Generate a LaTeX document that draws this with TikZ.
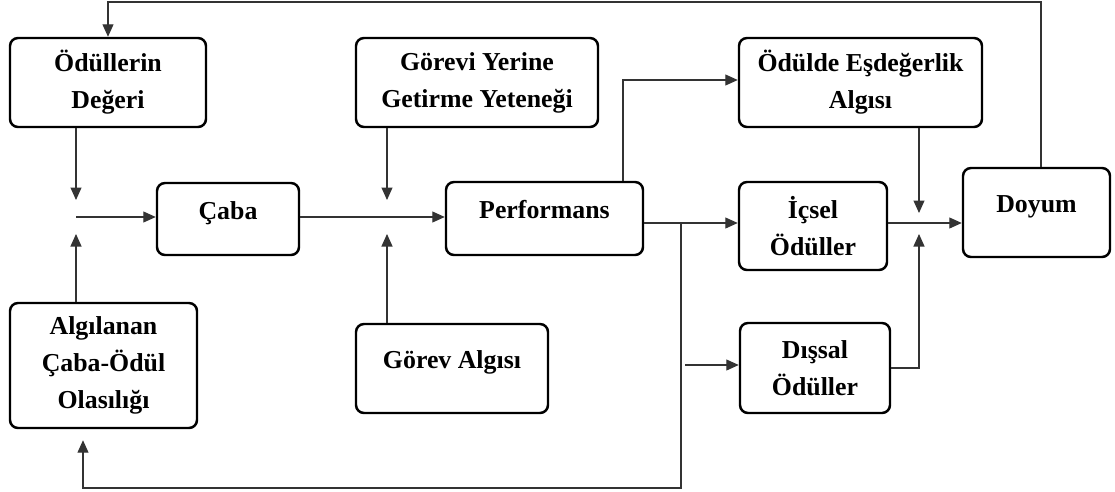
\documentclass[tikz,border=0pt]{standalone}
\usepackage{fontspec}
\setmainfont{Liberation Serif}
\usetikzlibrary{arrows.meta}

\begin{document}
\begin{tikzpicture}[
  box/.style={draw=black,line width=1.4pt,rounded corners=0.16cm,align=center,inner sep=0pt,
    font=\fontsize{14.7}{21}\selectfont\bfseries},
  oneline/.style={text height=10pt,text depth=10pt},
  link/.style={draw=black!80,line width=0.6pt},
  arr/.style={link,-{Triangle[length=0.25cm,width=0.22cm]}}
]
\useasboundingbox (0,0) rectangle (22.3,-9.84);

\node[box,minimum width=3.92cm,minimum height=1.78cm] (od) at (2.16,-1.65) {Ödüllerin\\Değeri};
\node[box,minimum width=4.84cm,minimum height=1.78cm] (gy) at (9.54,-1.65) {Görevi Yerine\\Getirme Yeteneği};
\node[box,minimum width=4.86cm,minimum height=1.78cm] (oe) at (17.21,-1.65) {Ödülde Eşdeğerlik\\Algısı};
\node[box,oneline,minimum width=2.84cm,minimum height=1.44cm] (cb) at (4.56,-4.38) {Çaba};
\node[box,oneline,minimum width=3.94cm,minimum height=1.46cm] (pf) at (10.89,-4.37) {Performans};
\node[box,minimum width=2.96cm,minimum height=1.76cm] (io) at (16.26,-4.52) {İçsel\\Ödüller};
\node[box,oneline,minimum width=2.94cm,minimum height=1.78cm] (dy) at (20.73,-4.25) {Doyum};
\node[box,minimum width=3.74cm,minimum height=2.5cm] (ao) at (2.07,-7.31) {Algılanan\\Çaba-Ödül\\Olasılığı};
\node[box,oneline,minimum width=3.84cm,minimum height=1.78cm] (ga) at (9.04,-7.37) {Görev Algısı};
\node[box,minimum width=3cm,minimum height=1.8cm] (do) at (16.3,-7.36) {Dışsal\\Ödüller};

% junctions and bends
\coordinate (j1) at (1.52,-4.34);
\coordinate (j2) at (7.74,-4.34);
\coordinate (j3) at (18.38,-4.46);
\coordinate (pup) at (12.46,-1.6);
\coordinate (sp) at (13.62,-4.46);
\coordinate (bot) at (13.62,-9.76);
\coordinate (bl) at (1.66,-9.76);
\coordinate (dl) at (13.7,-7.3);
\coordinate (tr) at (20.82,-0.04);

\draw[arr] (od.south -| j1) -- ([yshift=0.34cm]j1);
\draw[arr] (ao.north -| j1) -- ([yshift=-0.34cm]j1);
\draw[arr] (j1) -- (j1 -| cb.west);

\draw[arr] (gy.south -| j2) -- ([yshift=0.34cm]j2);
\draw[arr] (ga.north -| j2) -- ([yshift=-0.34cm]j2);
\draw[arr] (cb.east |- j2) -- (j2 -| pf.west);

\draw[arr] (pf.north -| pup) -- (pup) -- (pup -| oe.west);
\draw[arr] (pf.east |- j3) -- (j3 -| io.west);
\draw[arr,shorten >=0.22cm] (sp) -- (bot) -- (bl) -- (bl |- ao.south);
\draw[arr] (dl) -- (dl -| do.west);

\draw[arr] (oe.south -| j3) -- ([yshift=0.2cm]j3);
\draw[arr] (do.east) -| ([yshift=-0.22cm]j3);
\draw[arr] (io.east |- j3) -- (j3 -| dy.west);
\draw[arr] (dy.north -| tr) -- (tr) -| (od.north);
\end{tikzpicture}
\end{document}
